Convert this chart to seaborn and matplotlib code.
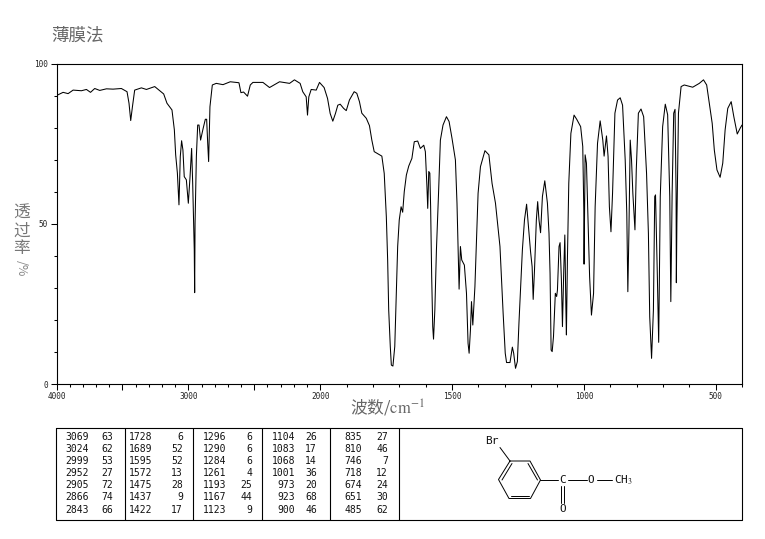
import numpy as np
import pandas as pd
import seaborn as sns
import matplotlib.pyplot as plt
from matplotlib.ticker import FixedLocator, FixedFormatter

# spectrum, split by region
wn_high = [4000, 3950, 3912, 3874, 3811, 3773, 3742, 3710, 3672, 3621, 3571, 3508, 3465, 3450, 3437, 3424, 3407, 3356, 3318, 3255,
           3187, 3162, 3124, 3106, 3096, 3083, 3071, 3061, 3051, 3041, 3031, 3015, 3000, 2987, 2975, 2967, 2955, 2952, 2949, 2939,
           2929, 2919, 2907, 2889, 2871, 2861, 2853, 2846, 2836, 2818, 2788, 2737, 2682, 2616, 2601, 2581, 2551, 2530, 2510, 2434,
           2384, 2308, 2232, 2195, 2152, 2132, 2106, 2096, 2086, 2068, 2030, 2005]
t_high = [90, 91, 90.6, 91.7, 91.5, 91.9, 91, 92.2, 91.6, 92.1, 92, 92.2, 91.2, 87.6, 82.2, 86.5, 91.7, 92.4, 91.9, 92.8,
          90.5, 87.6, 85.5, 79.3, 71.5, 65.8, 55.9, 71, 75.9, 73, 64.7, 63.7, 56.4, 64.7, 73.5, 62.7, 41.9, 28.5, 50, 71,
          80.8, 80.8, 76.1, 79.5, 82.6, 82.6, 75.1, 69.4, 86.5, 93.3, 93.8, 93.4, 94.3, 94, 90.9, 91.1, 89.8, 93.3, 94.1, 94.1,
          92.5, 94.3, 93.8, 94.9, 93.8, 91.2, 89.6, 83.9, 89.6, 91.9, 91.7, 94.1]

wn_mid = [1985, 1972, 1962, 1952, 1942, 1933, 1924, 1911, 1901, 1889, 1871, 1861, 1851, 1842, 1825, 1813, 1804, 1795, 1766, 1757,
          1749, 1744, 1740, 1734, 1730, 1724, 1717, 1711, 1706, 1700, 1693, 1687, 1681, 1673, 1664, 1652, 1643, 1630, 1620, 1607,
          1601, 1595, 1592, 1588, 1584, 1581, 1577, 1573, 1570, 1565, 1559, 1551, 1544, 1534, 1521, 1511, 1500, 1487, 1481, 1475,
          1473, 1468, 1463, 1453, 1445, 1439, 1435, 1430, 1426, 1421, 1413, 1407, 1401, 1392, 1375, 1360, 1348, 1335, 1318, 1306,
          1298, 1293, 1280, 1271, 1266, 1259, 1252, 1246, 1233, 1225, 1217, 1211, 1202, 1196, 1192, 1187, 1180, 1175, 1170, 1164]
t_mid = [92.5, 89.1, 84.4, 82, 84.4, 87, 87.3, 86, 85.3, 88.6, 91.2, 90.7, 88.1, 84.5, 82.9, 80.6, 76.1, 72.5, 71.1, 65.7,
         52.2, 38.7, 23.1, 11.7, 5.9, 5.6, 11.7, 28.3, 42.9, 51.2, 55.3, 53.6, 60, 65.2, 68, 70.4, 75.6, 75.8, 73.5, 74.5,
         72.5, 61.6, 54.8, 66.3, 65.8, 55.3, 33.5, 17.9, 14, 23.1, 41.8, 59.5, 76.1, 80.8, 83.4, 81.9, 76.7, 69.9, 56.4, 36.6,
         29.6, 42.9, 38.7, 37.1, 28.3, 12.7, 9.6, 16.8, 25.7, 18.4, 30.4, 44.9, 59.5, 67.8, 72.8, 71.5, 62.6, 56.4, 42.9, 22.1,
         9.6, 6.7, 6.7, 11.5, 9.6, 4.9, 7, 19, 41.8, 51.2, 56.1, 50.1, 41.3, 36.6, 26.4, 35.6, 51.2, 56.9, 51.2, 47.2]

wn_low = [1157, 1148, 1138, 1132, 1128, 1124, 1120, 1115, 1110, 1108, 1103, 1100, 1094, 1090, 1085, 1081, 1076, 1072, 1068, 1066,
          1062, 1057, 1049, 1037, 1027, 1012, 1004, 1000, 999, 995, 990, 984, 978, 971, 963, 957, 948, 938, 928, 923,
          914, 908, 903, 897, 891, 882, 872, 862, 853, 843, 837, 833, 829, 824, 819, 814, 806, 801, 793, 783,
          773, 762, 755, 750, 743, 736, 731, 728, 721, 716, 710, 701, 691, 682, 674, 670, 665, 659, 654, 650,
          649, 647, 641, 631, 619, 587, 562, 546, 534, 524, 513, 505, 495, 483, 473, 464, 454, 441, 431, 418, 407, 400]
t_low = [58.5, 63.4, 56.4, 47, 34.5, 10.6, 10.1, 14.8, 24.1, 28.3, 27.3, 29.3, 42.9, 44.1, 32.5, 17.9, 35.6, 46.5, 24.1, 15.3,
         39.7, 62.6, 78.2, 83.9, 82.6, 80.3, 74.1, 54.3, 37.4, 71.5, 68.9, 51.2, 33.5, 21.5, 28.3, 55.3, 75.1, 82.1, 76.1, 71.1,
         77.4, 71, 55.3, 47.5, 59.5, 84.5, 88.6, 89.3, 87, 69.9, 53.3, 28.8, 47, 76.1, 69.9, 59.5, 48.1, 66.8, 84.5, 85.8,
         83.4, 65.7, 47, 21, 8, 23.1, 58.5, 59, 33.5, 13, 58.5, 80.3, 87.3, 84, 58.5, 25.7, 59.5, 84.5, 85.7, 59.5,
         31.6, 50.1, 84.5, 92.8, 93.3, 92.6, 93.8, 94.9, 93.3, 87.6, 81.3, 73, 66.8, 64.5, 68.9, 79.3, 86, 88.1, 83.4, 78, 79.8, 80.8]

# peak table, one list per column block
peak_wn = [["3069", "3024", "2999", "2952", "2905", "2866", "2843"],
           ["1728", "1689", "1595", "1572", "1475", "1437", "1422"],
           ["1296", "1290", "1284", "1261", "1193", "1167", "1123"],
           ["1104", "1083", "1068", "1001", "973", "923", "900"],
           ["835", "810", "746", "718", "674", "651", "485"]]
peak_t = [["63", "62", "53", "27", "72", "74", "66"],
          ["6", "52", "52", "13", "28", "9", "17"],
          ["6", "6", "6", "4", "25", "44", "9"],
          ["26", "17", "14", "36", "20", "68", "46"],
          ["27", "46", "7", "12", "24", "30", "62"]]

spectrum = pd.DataFrame({'wn': wn_high + wn_mid + wn_low, 't': t_high + t_mid + t_low})

sns.set_style('ticks')
plt.rcParams['font.family'] = ['Noto Sans CJK SC', 'DejaVu Sans']
plt.rcParams['mathtext.fontset'] = 'stix'

W, H = 765, 539
fig = plt.figure(figsize=(W / 100, H / 100), dpi=100)


# wavenumber axis is compressed 2x above 2000
def forward(w):
    w = np.asarray(w, dtype=float)
    return np.where(w >= 2000, (w - 2000) * 0.5 + 2000, w)


def inverse(p):
    p = np.asarray(p, dtype=float)
    return np.where(p >= 2000, (p - 2000) * 2 + 2000, p)


ax = fig.add_axes([56.5 / W, 1 - 384 / H, (742 - 56.5) / W, (384 - 63.5) / H])
ax.set_xscale('function', functions=(forward, inverse))
sns.lineplot(data=spectrum, x='wn', y='t', sort=False, estimator=None, color='black', linewidth=0.75, ax=ax)
ax.set_xlim(4000, 400)
ax.set_ylim(0, 100)
ax.set_xlabel('')
ax.set_ylabel('')

major_x = [4000, 3500, 3000, 2500, 2000, 1500, 1000, 500]
major_x_labels = ['4000', '', '3000', '', '2000', '1500', '1000', '500']
ax.xaxis.set_major_locator(FixedLocator(major_x))
ax.xaxis.set_major_formatter(FixedFormatter(major_x_labels))
ax.xaxis.set_minor_locator(FixedLocator(np.arange(400, 4000, 100)))
ax.set_yticks([0, 50, 100], ['0', '50', '100'])
ax.yaxis.set_minor_locator(FixedLocator(np.arange(0, 100, 10)))
ax.tick_params(which='major', length=4, width=0.75, color='black', labelsize=5.6, pad=2)
ax.tick_params(which='minor', length=2.2, width=0.75, color='black')
for lab in ax.get_xticklabels() + ax.get_yticklabels():
    lab.set_family('DejaVu Sans Mono')
    lab.set_color('#222222')
for s in ax.spines.values():
    s.set_linewidth(0.8)
    s.set_color('black')

# overlay in pixel coordinates for table and structure
ov = fig.add_axes([0, 0, 1, 1], facecolor='none')
ov.set_xlim(0, W)
ov.set_ylim(H, 0)
ov.axis('off')

fig.text(51 / W, 1 - 36 / H, '薄膜法', fontsize=12.6, color='#666666', va='center', ha='left')
fig.text(388 / W, 1 - 408 / H, '波数/$\\mathrm{cm}^{-1}$', fontsize=12, color='#666666', va='center', ha='center')
for yy, ch in zip([213, 231, 248], '透过率'):
    fig.text(21.5 / W, 1 - yy / H, ch, fontsize=12, color='#777777', va='center', ha='center')
fig.text(21.5 / W, 1 - 268 / H, '/%', fontsize=9, color='#888888', va='center', ha='center', rotation=-90)

# table frame
ov.plot([56.5, 742, 742, 56.5, 56.5], [427.5, 427.5, 519.5, 519.5, 427.5], color='black', lw=0.8)
for xx in [125.5, 193.5, 262.5, 330.5, 399.5]:
    ov.plot([xx, xx], [427.5, 519.5], color='black', lw=0.8)

row_y = [437, 449, 461, 473, 485, 497, 510]
wn_right = [89, 152, 226, 295, 362]
t_right = [113, 183, 252, 317, 388]
for i in range(5):
    for j, yy in enumerate(row_y):
        ov.text(wn_right[i], yy, peak_wn[i][j], family='DejaVu Sans Mono', fontsize=7, ha='right', va='center', color='#111111')
        ov.text(t_right[i], yy, peak_t[i][j], family='DejaVu Sans Mono', fontsize=7, ha='right', va='center', color='#111111')

# structure drawing
ring_x = [510, 530, 540.5, 530.5, 509, 498.5, 510]
ring_y = [461, 461, 480, 498.5, 498.5, 479.5, 461]
ov.plot(ring_x, ring_y, color='black', lw=0.7)
ov.plot([512, 502], [463.5, 480], color='black', lw=0.7)
ov.plot([528, 537.5], [463.5, 480], color='black', lw=0.7)
ov.plot([511.5, 529], [496, 496], color='black', lw=0.7)
ov.plot([500, 510], [447.5, 461], color='black', lw=0.7)
ov.plot([540.5, 558], [480, 480], color='black', lw=0.7)
ov.plot([568, 587], [480, 480], color='black', lw=0.7)
ov.plot([597, 612], [480, 480], color='black', lw=0.7)
ov.plot([561, 561], [486, 503], color='black', lw=0.7)
ov.plot([564, 564], [486, 503], color='black', lw=0.7)
for xx, yy, txt in [(492, 441, 'Br'), (563, 480, 'C'), (591, 480, 'O'), (563, 509, 'O')]:
    ov.text(xx, yy, txt, family='DejaVu Sans Mono', fontsize=8, ha='center', va='center', color='#111111')
ov.text(614, 480, 'CH$_3$', family='DejaVu Sans Mono', fontsize=8, ha='left', va='center', color='#111111')

fig.savefig('out.png', dpi=100)
